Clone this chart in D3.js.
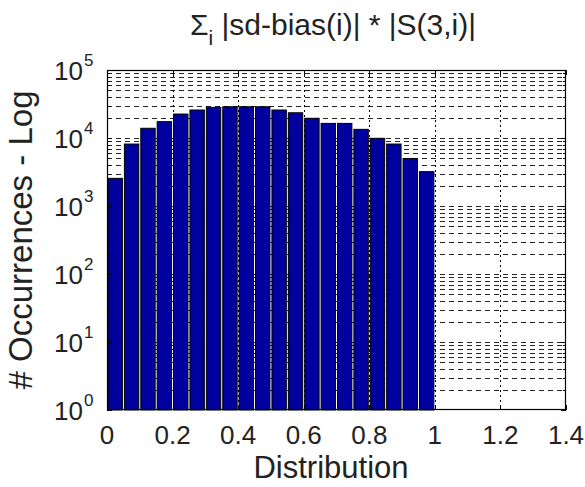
<!DOCTYPE html>
<html>
<head>
<meta charset="utf-8">
<script src="https://cdn.jsdelivr.net/npm/d3@7"></script>
<style>
  html, body { margin: 0; padding: 0; background: #fff; }
  svg { display: block; font-family: "Liberation Sans", Arial, sans-serif; }
</style>
</head>
<body>
<svg id="chart" width="585" height="487"></svg>
<script>
// ---- data ----
const binStarts = [0, 0.05, 0.1, 0.15, 0.2, 0.25, 0.3, 0.35, 0.4, 0.45,
                   0.5, 0.55, 0.6, 0.65, 0.7, 0.75, 0.8, 0.85, 0.9, 0.95];
const binWidth = 0.05;
const counts = [2550, 8150, 13900, 17400, 22500, 25800, 28200, 28800, 28800, 28800,
                25800, 23500, 19500, 16400, 16400, 13400, 9900, 8150, 5000, 3200];
const xTicks = [0, 0.2, 0.4, 0.6, 0.8, 1, 1.2, 1.4];
const xTickLabels = ["0", "0.2", "0.4", "0.6", "0.8", "1", "1.2", "1.4"];
const yExponents = [0, 1, 2, 3, 4, 5];
const titleMain = "Σ";
const titleSub = "i";
const titleRest = " |sd-bias(i)| * |S(3,i)|";
const xLabel = "Distribution";
const yLabel = "# Occurrences - Log";

// ---- layout ----
const L = 107, R = 566, T = 70, B = 410;
const svg = d3.select("#chart");
const x = d3.scaleLinear().domain([0, 1.4]).range([L, R]);
const y = d3.scaleLog().domain([1, 1e5]).range([B, T]);

// grid (behind bars)
const grid = svg.append("g");
const hVals = [];
for (let k = 0; k < 5; k++) for (let m = 1; m <= 9; m++) hVals.push(m * Math.pow(10, k));
grid.selectAll("line.h").data(hVals.filter(v => v > 1)).enter().append("line")
  .attr("x1", L).attr("x2", R)
  .attr("y1", d => Math.round(y(d)) + 0.5).attr("y2", d => Math.round(y(d)) + 0.5)
  .attr("stroke", "#000").attr("stroke-width", 1)
  .attr("stroke-dasharray", "5,4").attr("opacity", 0.85);
grid.selectAll("line.v").data(xTicks.filter(v => v > 0 && v < 1.4)).enter().append("line")
  .attr("y1", T).attr("y2", B)
  .attr("x1", d => Math.round(x(d)) + 0.5).attr("x2", d => Math.round(x(d)) + 0.5)
  .attr("stroke", "#000").attr("stroke-width", 1)
  .attr("stroke-dasharray", "2,3");

// bars
svg.append("g").selectAll("rect").data(counts).enter().append("rect")
  .attr("x", (d, i) => x(binStarts[i]) + 1)
  .attr("width", (d, i) => x(binStarts[i] + binWidth) - x(binStarts[i]) - 2)
  .attr("y", d => y(d))
  .attr("height", d => B - y(d))
  .attr("fill", "#00009e")
  .attr("stroke", "#000")
  .attr("stroke-width", 1);

// axes box
svg.append("rect").attr("x", L + 0.5).attr("y", T + 0.5)
  .attr("width", R - L - 1).attr("height", B - T - 1)
  .attr("fill", "none").attr("stroke", "#000").attr("stroke-width", 1.2);

// ticks (inward, mirrored)
const tk = svg.append("g").attr("stroke", "#000").attr("stroke-width", 1);
xTicks.forEach(v => {
  const px = Math.round(x(v)) + 0.5;
  tk.append("line").attr("x1", px).attr("x2", px).attr("y1", B).attr("y2", B - 5);
  tk.append("line").attr("x1", px).attr("x2", px).attr("y1", T).attr("y2", T + 5);
});
hVals.concat([1e5]).forEach(v => {
  const py = Math.round(y(v)) + 0.5;
  const lg = Math.log10(v);
  const len = Math.abs(lg - Math.round(lg)) < 1e-9 ? 5 : 3;
  tk.append("line").attr("x1", L).attr("x2", L + len).attr("y1", py).attr("y2", py);
  tk.append("line").attr("x1", R).attr("x2", R - len).attr("y1", py).attr("y2", py);
});

// x tick labels
svg.append("g").selectAll("text").data(xTicks).enter().append("text")
  .attr("x", d => x(d)).attr("y", 444)
  .attr("text-anchor", "middle")
  .attr("font-size", 26).attr("fill", "#222")
  .text((d, i) => xTickLabels[i]);

// y tick labels 10^k
const yl = svg.append("g").attr("fill", "#222");
yExponents.forEach(k => {
  const py = y(Math.pow(10, k));
  yl.append("text").attr("x", 83).attr("y", py + 10)
    .attr("text-anchor", "end").attr("font-size", 26).text("10");
  yl.append("text").attr("x", 84).attr("y", py - 4)
    .attr("text-anchor", "start").attr("font-size", 17).text(String(k));
});

// title
const title = svg.append("text").attr("x", 333).attr("y", 35)
  .attr("text-anchor", "middle").attr("font-size", 30).attr("fill", "#222");
title.append("tspan").text(titleMain);
title.append("tspan").attr("font-size", 21).attr("dy", 10).text(titleSub);
title.append("tspan").attr("dy", -10).text(titleRest);

// axis labels
svg.append("text").attr("x", 331).attr("y", 478)
  .attr("text-anchor", "middle").attr("font-size", 31).attr("fill", "#222")
  .text(xLabel);
svg.append("text").attr("transform", "translate(32,240) rotate(-90)")
  .attr("text-anchor", "middle").attr("font-size", 33).attr("fill", "#222")
  .text(yLabel);
</script>
</body>
</html>
